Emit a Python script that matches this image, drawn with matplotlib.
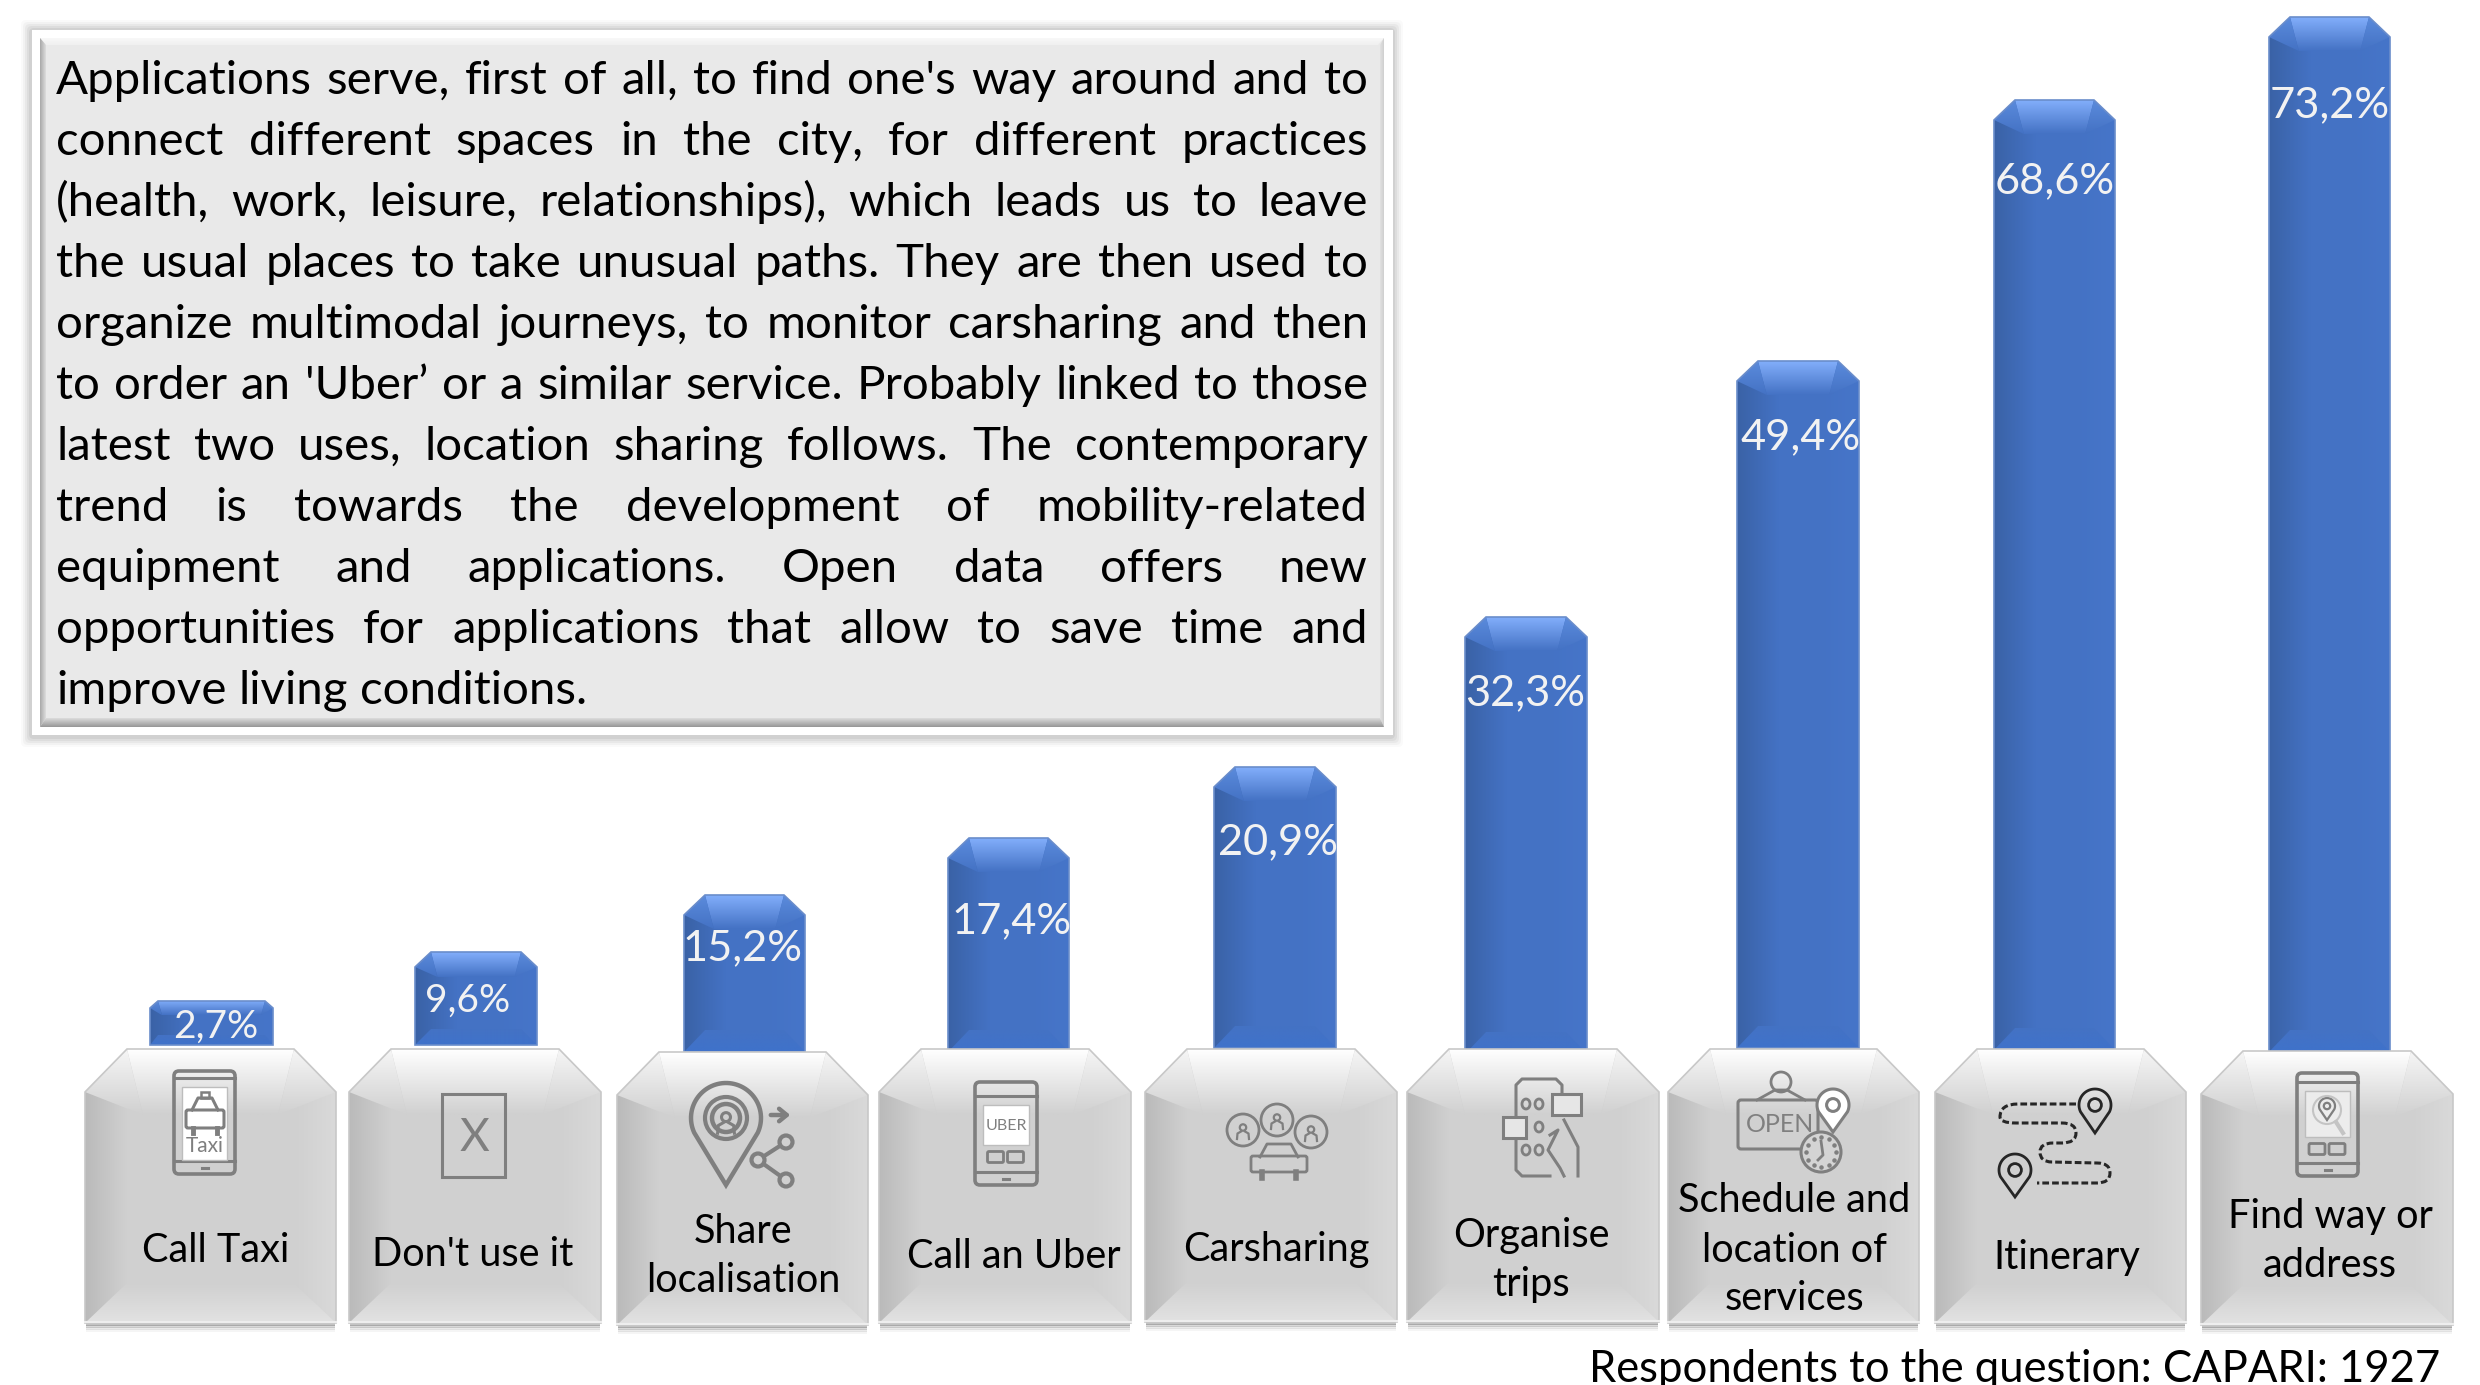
import matplotlib
matplotlib.use('Agg')
import matplotlib.pyplot as plt
import matplotlib.patches as patches
from matplotlib.colors import to_rgb
from matplotlib.path import Path
import numpy as np

plt.rcParams['font.family'] = ['Lato', 'DejaVu Sans']

# data, worst to best. the drawn bars are not to scale, so heights are read off separately
categories = ["Call Taxi", "Don't use it", "Share\nlocalisation", "Call an Uber", "Carsharing",
              "Organise\ntrips", "Schedule and\nlocation of\nservices", "Itinerary", "Find way or\naddress"]
labels = ["2,7%", "9,6%", "15,2%", "17,4%", "20,9%", "32,3%", "49,4%", "68,6%", "73,2%"]
drawn_heights = [44, 93, 157, 214, 281, 437, 687, 950, 1035]
note = "Respondents to the question: CAPARI: 1927"
body_lines = [
    "Applications serve, first of all, to find one's way around and to",
    "connect different spaces in the city, for different practices",
    "(health, work, leisure, relationships), which leads us to leave",
    "the usual places to take unusual paths. They are then used to",
    "organize multimodal journeys, to monitor carsharing and then",
    "to order an 'Uber’ or a similar service. Probably linked to those",
    "latest two uses, location sharing follows. The contemporary",
    "trend is towards the development of mobility-related",
    "equipment and applications. Open data offers new",
    "opportunities for applications that allow to save time and",
    "improve living conditions.",
]

# layout in pixels
bar_x0 = [150, 415, 684, 948, 1214, 1465, 1737, 1994, 2269]
bar_x1 = [273, 537, 805, 1069, 1336, 1587, 1859, 2115, 2390]
bar_base = [1045, 1045, 1052, 1052, 1048, 1054, 1048, 1050, 1052]
card_x0 = [85, 349, 617, 879, 1145, 1407, 1668, 1935, 2201]
card_x1 = [336, 601, 868, 1131, 1397, 1659, 1919, 2186, 2453]
card_top = [1049, 1049, 1052, 1049, 1049, 1049, 1049, 1049, 1051]
card_bot = [1323, 1323, 1325, 1323, 1322, 1322, 1323, 1323, 1325]
label_x = [216, 468, 742, 1012, 1278, 1525, 1801, 2055, 2330]
label_y = [1027, 1001, 948, 921, 842, 693, 437, 181, 105]
label_fs = [28, 28, 31.2, 31.2, 31.2, 31.2, 31.2, 31.2, 31.2]
cat_x = [216, 473, 743, 1014, 1276, 1531, 1794, 2067, 2330]
cat_y = [1251, 1254, 1256, 1257, 1250, 1260, 1250, 1257, 1241]
GREY = '#7f7f7f'

fig = plt.figure(figsize=(24.8, 13.85), dpi=100)
ax = fig.add_axes([0, 0, 1, 1])


def grad(poly, c0, c1, a0=1.0, a1=1.0, vertical=True, z=2):
    # gradient fill clipped to a polygon
    poly = np.array(poly, dtype=float)
    xa, ya = poly.min(axis=0)
    xb, yb = poly.max(axis=0)
    t = np.linspace(0, 1, 64)
    rgba = np.zeros((64, 1, 4)) if vertical else np.zeros((1, 64, 4))
    c0, c1 = np.array(to_rgb(c0)), np.array(to_rgb(c1))
    vals = np.stack([c0[i] + (c1[i] - c0[i]) * t for i in range(3)] + [a0 + (a1 - a0) * t], axis=1)
    rgba[:] = vals[:, None, :] if vertical else vals[None, :, :]
    im = ax.imshow(rgba, extent=(xa, xb, yb, ya), aspect='auto', origin='upper',
                   zorder=z, interpolation='bilinear')
    clip = patches.Polygon(poly, closed=True, transform=ax.transData, fc='none', ec='none')
    ax.add_patch(clip)
    im.set_clip_path(clip)


def bevel(x0, x1, top, bot, ins, sh, dep, base, dark, light, top_c, side_c, bot_c, edge, z=2):
    outline = [(x0, top + sh), (x0 + ins, top), (x1 - ins, top), (x1, top + sh), (x1, bot), (x0, bot)]
    ax.add_patch(patches.Polygon(outline, closed=True, fc=base, ec='none', zorder=z))
    # soft sides
    grad([(x0, top + sh), (x0 + 42, top + sh), (x0 + 42, bot), (x0, bot)], dark, base, vertical=False, z=z)
    grad([(x1 - 42, top + sh), (x1, top + sh), (x1, bot), (x1 - 42, bot)], base, light, vertical=False, z=z)
    # bottom facet
    grad([(x0, bot), (x0 + ins, bot - dep), (x1 - ins, bot - dep), (x1, bot)], base, bot_c, z=z)
    # top facet and the two corners
    grad([(x0 + ins, top), (x1 - ins, top), (x1 - ins - dep * 0.4, top + dep + sh * 0.6),
          (x0 + ins + dep * 0.4, top + dep + sh * 0.6)], top_c, base, z=z)
    grad([(x0, top + sh), (x0 + ins, top), (x0 + ins + dep * 0.4, top + dep + sh * 0.6)], side_c, base, z=z)
    grad([(x1, top + sh), (x1 - ins, top), (x1 - ins - dep * 0.4, top + dep + sh * 0.6)], side_c, base, z=z)
    ax.add_patch(patches.Polygon(outline, closed=True, fc='none', ec=edge, lw=1.2, zorder=z))


def phone(x0, x1, y0, y1, s0, s1, screen='white', buttons=True):
    ax.add_patch(patches.FancyBboxPatch((x0 + 5, y0 + 5), x1 - x0 - 10, y1 - y0 - 10,
                                        boxstyle='round,pad=5', fc='none', ec=GREY, lw=2.6, zorder=4))
    ax.plot([x0, x1], [s0 - 9, s0 - 9], color=GREY, lw=2.2, zorder=4)
    ax.plot([x0, x1], [y1 - 13, y1 - 13], color=GREY, lw=2.2, zorder=4)
    ax.plot([(x0 + x1) / 2 - 3, (x0 + x1) / 2 + 3], [y1 - 6, y1 - 6], color=GREY, lw=2.2, zorder=4)
    ax.add_patch(patches.Rectangle((x0 + 8, s0), x1 - x0 - 16, s1 - s0, fc=screen, ec='#bdbdbd', lw=1, zorder=4))
    if buttons:
        cx = (x0 + x1) / 2
        for dx in (-17, 3):
            ax.add_patch(patches.FancyBboxPatch((cx + dx, s1 + 8), 13, 8, boxstyle='round,pad=1.5',
                                                fc='none', ec=GREY, lw=2, zorder=4))


def pin(cx, cy, r, tip, color=GREY, lw=2.2, fc='none'):
    t = np.linspace(np.radians(155), np.radians(385), 60)
    xs = list(cx + r * np.cos(t)) + [cx]
    ys = list(cy + r * np.sin(t)) + [tip]
    ax.add_patch(patches.Polygon(np.column_stack([xs, ys]), closed=True, fc=fc, ec=color, lw=lw, zorder=4))
    ax.add_patch(patches.Circle((cx, cy), r * 0.4, fc='none', ec=color, lw=lw, zorder=5))


def person(cx, cy, s, lw=1.8):
    ax.add_patch(patches.Circle((cx, cy - s * 0.35), s * 0.32, fc='none', ec=GREY, lw=lw, zorder=5))
    ax.plot([cx - s * 0.6, cx - s * 0.55, cx - s * 0.2], [cy + s * 0.8, cy + s * 0.25, cy + s * 0.05], color=GREY, lw=lw, zorder=5)
    ax.plot([cx + s * 0.6, cx + s * 0.55, cx + s * 0.2], [cy + s * 0.8, cy + s * 0.25, cy + s * 0.05], color=GREY, lw=lw, zorder=5)


def draw_icons():
    # taxi
    phone(174, 235, 1071, 1174, 1087, 1160, buttons=False)
    ax.add_patch(patches.FancyBboxPatch((188, 1112), 34, 14, boxstyle='round,pad=2', fc='none', ec=GREY, lw=2.2, zorder=5))
    ax.plot([192, 198, 212, 218], [1110, 1098, 1098, 1110], color=GREY, lw=2.2, zorder=5)
    ax.add_patch(patches.Rectangle((201, 1092), 8, 6, fc='none', ec=GREY, lw=1.8, zorder=5))
    ax.plot([193, 193], [1128, 1133], color=GREY, lw=3.5, zorder=5)
    ax.plot([217, 217], [1128, 1133], color=GREY, lw=3.5, zorder=5)
    ax.text(205, 1146, "Taxi", ha='center', va='center', fontsize=15, color=GREY, zorder=5)
    # no app box
    ax.add_patch(patches.Rectangle((442, 1094), 63, 83, fc='none', ec=GREY, lw=2.2, zorder=4))
    ax.text(474, 1138, "X", ha='center', va='center', fontsize=33, color=GREY, zorder=4)
    # share localisation
    pin(726, 1118, 35, 1185, lw=3.2)
    ax.add_patch(patches.Circle((726, 1118), 21, fc='none', ec=GREY, lw=3, zorder=5))
    person(726, 1122, 14, lw=2.2)
    ax.annotate('', xy=(793, 1115), xytext=(768, 1115), zorder=5,
                arrowprops=dict(arrowstyle='->,head_width=0.45,head_length=0.55', color=GREY, lw=3.2))
    ax.plot([786, 758, 786], [1142, 1160, 1180], color=GREY, lw=3, zorder=5)
    for nx, ny in [(786, 1142), (758, 1160), (786, 1180)]:
        ax.add_patch(patches.Circle((nx, ny), 6.5, fc='#d0d0d0', ec=GREY, lw=3, zorder=6))
    # uber
    phone(975, 1037, 1082, 1185, 1105, 1145)
    ax.text(1006, 1126, "UBER", ha='center', va='center', fontsize=11.5, color=GREY, zorder=5)
    # carsharing
    for cx, cy in [(1243, 1130), (1277, 1120), (1311, 1132)]:
        ax.add_patch(patches.Circle((cx, cy), 16, fc='none', ec=GREY, lw=2, zorder=4))
        person(cx, cy + 1, 10, lw=1.6)
    ax.add_patch(patches.FancyBboxPatch((1253, 1158), 52, 12, boxstyle='round,pad=2', fc='none', ec=GREY, lw=2, zorder=4))
    ax.plot([1260, 1267, 1291, 1298], [1157, 1144, 1144, 1157], color=GREY, lw=2, zorder=4)
    ax.plot([1262, 1262], [1172, 1178], color=GREY, lw=4, zorder=4)
    ax.plot([1296, 1296], [1172, 1178], color=GREY, lw=4, zorder=4)
    # organise trips
    ax.plot([1562, 1562, 1556, 1522, 1516, 1516, 1522, 1550], [1092, 1085, 1079, 1079, 1085, 1170, 1176, 1176], color=GREY, lw=2.2, zorder=4)
    for px, py in [(1526, 1104), (1539, 1104), (1539, 1127), (1526, 1150), (1539, 1150)]:
        ax.add_patch(patches.Ellipse((px, py), 8, 10, fc='none', ec=GREY, lw=2, zorder=4))
    ax.plot([1564, 1578, 1578], [1120, 1147, 1176], color=GREY, lw=2.2, zorder=4)
    ax.plot([1550, 1558, 1548, 1560, 1564], [1135, 1130, 1150, 1168, 1176], color=GREY, lw=2.2, zorder=4)
    ax.add_patch(patches.Rectangle((1552, 1094), 29, 21, fc='#e6e6e6', ec=GREY, lw=2.2, zorder=5))
    ax.add_patch(patches.Rectangle((1503, 1117), 23, 21, fc='#e6e6e6', ec=GREY, lw=2.2, zorder=5))
    # open sign
    ax.add_patch(patches.FancyBboxPatch((1741, 1103), 74, 43, boxstyle='round,pad=3', fc='none', ec=GREY, lw=2.2, zorder=4))
    ax.add_patch(patches.Circle((1781, 1082), 10, fc='none', ec=GREY, lw=2, zorder=4))
    ax.plot([1757, 1775, 1787, 1805], [1100, 1090, 1090, 1100], color=GREY, lw=2, zorder=4)
    ax.text(1780, 1124, "OPEN", ha='center', va='center', fontsize=18, color=GREY, zorder=5)
    pin(1833, 1105, 16, 1132, fc='white')
    ax.add_patch(patches.Circle((1821, 1152), 20, fc='#d4d4d4', ec=GREY, lw=2.2, zorder=5))
    t = np.arange(12) * np.pi / 6
    ax.scatter(1821 + 15 * np.cos(t), 1152 + 15 * np.sin(t), s=5, color=GREY, zorder=6)
    ax.plot([1821, 1823, 1818], [1141, 1155, 1160], color=GREY, lw=2, zorder=6)
    # itinerary, dashed route between two pins
    verts = [(2076, 1104), (2018, 1104), (2000, 1104), (2000, 1117), (2000, 1123), (2016, 1123),
             (2062, 1123), (2076, 1123), (2076, 1133), (2076, 1143), (2062, 1143), (2053, 1143),
             (2040, 1143), (2040, 1152), (2040, 1162), (2052, 1162), (2097, 1163), (2110, 1163),
             (2110, 1173), (2110, 1183), (2097, 1183), (2037, 1183)]
    codes = [Path.MOVETO, Path.LINETO] + [Path.CURVE3, Path.CURVE3, Path.CURVE3, Path.CURVE3, Path.LINETO] + \
            [Path.CURVE3, Path.CURVE3, Path.CURVE3, Path.CURVE3, Path.LINETO] + \
            [Path.CURVE3, Path.CURVE3, Path.CURVE3, Path.CURVE3, Path.LINETO] + \
            [Path.CURVE3, Path.CURVE3, Path.CURVE3, Path.CURVE3, Path.LINETO]
    ax.add_patch(patches.PathPatch(Path(verts, codes), fc='none', ec='#262626', lw=2.2, ls=(0, (2.2, 1)), zorder=4))
    pin(2095, 1105, 16, 1133, color='#262626', lw=2)
    pin(2015, 1170, 16, 1197, color='#262626', lw=2)
    # find way
    phone(2297, 2358, 1073, 1176, 1091, 1137, screen='#ececec')
    pin(2327, 1106, 8, 1120, lw=1.6)
    ax.add_patch(patches.Circle((2327, 1110), 14, fc='none', ec='#c4c4c4', lw=1.5, zorder=5))
    ax.plot([2336, 2343], [1122, 1133], color='#c4c4c4', lw=3, zorder=5)


# bars on their cards
for i in range(len(labels)):
    top = bar_base[i] - drawn_heights[i]
    if drawn_heights[i] < 60:
        ins, sh, dep = 8, 7, 10
    elif drawn_heights[i] < 120:
        ins, sh, dep = 16, 15, 16
    else:
        ins, sh, dep = 21, 20, 22
    # main bar through the axes, then the bevel shading on top
    ax.bar((bar_x0[i] + bar_x1[i]) / 2, drawn_heights[i], width=bar_x1[i] - bar_x0[i], bottom=top,
           color='none', edgecolor='none', zorder=1)
    bevel(bar_x0[i], bar_x1[i], top, bar_base[i], ins, sh, dep, '#4472c4', '#3a62a6', '#4675c9',
          '#82aefb', '#5b8bdc', '#3f72cb', '#6a8dcb', z=2)
    ax.text(label_x[i], label_y[i], labels[i], ha='center', va='center', color='#f2f2f2',
            fontsize=label_fs[i], zorder=7)

    # shadow under the card
    for k, a in enumerate([0.35, 0.22, 0.12, 0.06]):
        ax.add_patch(patches.Rectangle((card_x0[i] + 1, card_bot[i] + k * 2), card_x1[i] - card_x0[i] - 2, 3,
                                       fc='#555555', alpha=a, ec='none', zorder=1))
    bevel(card_x0[i], card_x1[i], card_top[i], card_bot[i], 42, 43, 40, '#d0d0d0', '#bababa', '#d9d9d9',
          '#ffffff', '#f6f6f6', '#e2e2e2', '#c8c8c8', z=3)
    ax.plot([card_x0[i], card_x1[i]], [card_bot[i] - 1, card_bot[i] - 1], color='#eeeeee', lw=1.5, zorder=3)
    ax.text(cat_x[i], cat_y[i], categories[i], ha='center', va='center', color='black', fontsize=28.6,
            linespacing=1.4, zorder=7)

draw_icons()

# text box: soft shadow, white frame, grey panel with bevelled edge
for k, a in enumerate([0.03, 0.05, 0.07, 0.09, 0.11]):
    g = 10 - 2 * k
    ax.add_patch(patches.FancyBboxPatch((31 - g, 30 - g), 1362 + 2 * g, 705 + 2 * g + 2, boxstyle='round,pad=0,rounding_size=5',
                                        fc='#707070', alpha=a, ec='none', zorder=1))
ax.add_patch(patches.Rectangle((32, 30), 1361, 705, fc='white', ec='none', zorder=2))
ax.add_patch(patches.Rectangle((40, 38), 1344, 689, fc='#e9e9e9', ec='none', zorder=2))
grad([(40, 38), (1384, 38), (1378, 45), (46, 45)], '#f8f8f8', '#f0f0f0', z=3)
grad([(40, 38), (46, 45), (46, 718), (40, 727)], '#a8a8a8', '#dedede', vertical=False, z=3)
grad([(1384, 38), (1384, 727), (1380, 718), (1380, 45)], '#e2e2e2', '#cfcfcf', vertical=False, z=3)
grad([(46, 718), (1380, 718), (1384, 727), (40, 727)], '#dcdcdc', '#969696', z=3)

# justified paragraph
renderer = fig.canvas.get_renderer()
LEFT, RIGHT = 56, 1368
for n, line in enumerate(body_lines):
    y = 94 + 61 * n
    words = [ax.text(0, y, w, fontsize=34.1, color='black', va='baseline', zorder=5) for w in line.split()]
    widths = [t.get_window_extent(renderer).width for t in words]
    space = 12 if n == len(body_lines) - 1 else (RIGHT - LEFT - sum(widths)) / (len(words) - 1)
    x = LEFT
    for t, w in zip(words, widths):
        t.set_x(x)
        x += w + space

t_note = ax.text(2440, 1369, note, ha='right', va='center', fontsize=31.4, color='black', zorder=5)

ax.set_xlim(0, 2480)
ax.set_ylim(1385, 0)
ax.axis('off')
fig.savefig('out.png', dpi=100, facecolor='white')
